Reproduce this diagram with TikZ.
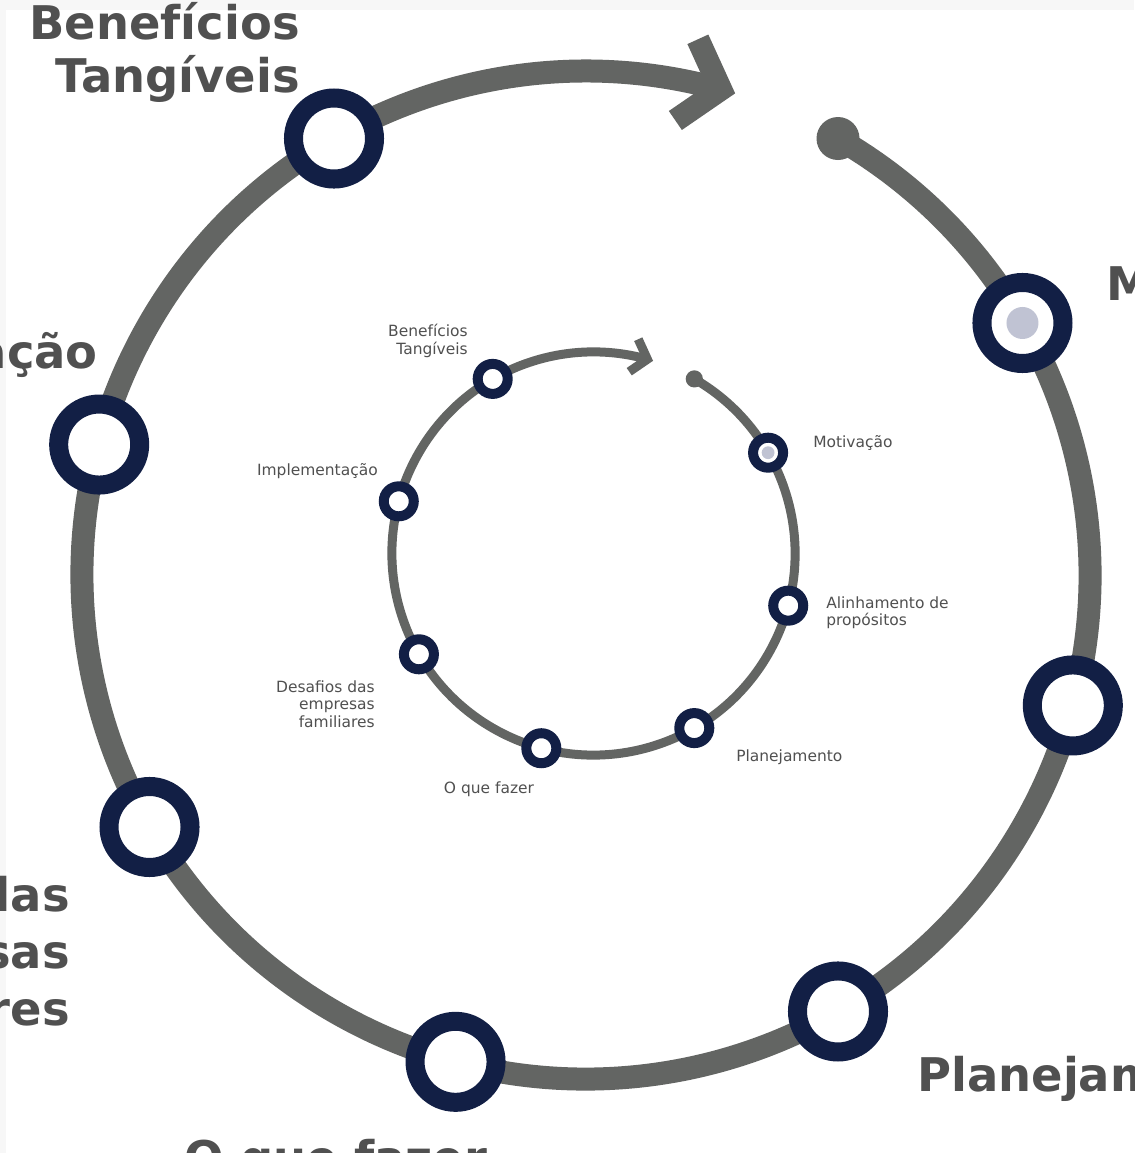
\documentclass[tikz,border=0pt]{standalone}
\usepackage{fontspec}
\setmainfont{DejaVu Sans}
\usepackage{tikz}
\usetikzlibrary{calc}

\definecolor{cinza}{RGB}{99,101,99}
\definecolor{marinho}{RGB}{18,31,69}
\definecolor{lilas}{RGB}{192,195,211}
\definecolor{texto}{RGB}{80,80,80}
\definecolor{fundo}{RGB}{247,247,247}

\tikzset{
	anel/.style={circle, draw=marinho, fill=white, line width=0.475cm, minimum size=2.025cm, inner sep=0pt},
	anelp/.style={circle, draw=marinho, fill=white, line width=0.25cm, minimum size=0.75cm, inner sep=0pt},
	rotulo/.style={text=texto, inner sep=0pt, font=\fontsize{33}{38}\selectfont\bfseries},
	rotulop/.style={text=texto, inner sep=0pt, font=\fontsize{11}{12.5}\selectfont},
}

\begin{document}
\begin{tikzpicture}[x=0.025cm, y=0.025cm]
	
	\useasboundingbox (0,0) rectangle (1134,1153);
	\clip (0,0) rectangle (1134,1153);
	\fill[fundo] (0,0) rectangle (1134,1153);
	\fill[white] (6,0) rectangle (1134,1143);
	
	% ciclo grande
	\begin{scope}[shift={(586,578)}]
		\coordinate (ini) at (60:504);
		\coordinate (ponta) at (74.5:504);
		
		\draw[cinza, line width=0.575cm] (ini) arc[start angle=60, end angle=-285.5, radius=504];
		\draw[cinza, line width=0.575cm] (ponta) ++(114.5:55) -- (ponta) -- ++(214.5:55);
		\fill[cinza] (ini) circle[radius=21.5];
		
		\node[anel] (mot) at (30:504) {};
		\node[anel] (ali) at (-15:504) {};
		\node[anel] (pla) at (-60:504) {};
		\node[anel] (oqf) at (-105:504) {};
		\node[anel] (des) at (-150:504) {};
		\node[anel] (imp) at (165:504) {};
		\node[anel] (ben) at (120:504) {};
		\fill[lilas] (mot) circle[radius=16];
	\end{scope}
	
	% ciclo pequeno
	\begin{scope}[shift={(593.5,599.5)}, scale=0.4]
		\coordinate (ini2) at (60:504);
		\coordinate (ponta2) at (74.5:504);
		
		\draw[cinza, line width=0.225cm] (ini2) arc[start angle=60, end angle=-285.5, radius=504];
		\draw[cinza, line width=0.225cm] (ponta2) ++(114.5:55) -- (ponta2) -- ++(214.5:55);
		\fill[cinza] (ini2) circle[radius=21.5];
		
		\node[anelp] (mot2) at (30:504) {};
		\node[anelp] (ali2) at (-15:504) {};
		\node[anelp] (pla2) at (-60:504) {};
		\node[anelp] (oqf2) at (-105:504) {};
		\node[anelp] (des2) at (-150:504) {};
		\node[anelp] (imp2) at (165:504) {};
		\node[anelp] (ben2) at (120:504) {};
		\fill[lilas] (mot2) circle[radius=16];
	\end{scope}
	
	\node[rotulo, anchor=north east, align=right] (tben) at (300,1151) {Benefícios\\Tangíveis};
	\node[rotulo, anchor=north east] (timp) at (98,821) {Implementação};
	\node[rotulo, anchor=north west] (tmot) at (1106,889) {Motivação};
	\node[rotulo, anchor=north west] (tpla) at (917,97) {Planejamento};
	\node[rotulo, anchor=north] (toqf) at (336,14) {O que fazer};
	\node[rotulo, anchor=north east, align=right, font=\fontsize{33}{40.5}\selectfont\bfseries] (tdes) at (70,277) {Desafios das\\empresas\\familiares};
	
	\node[rotulop, anchor=north east, align=right] (tben2) at (468,829) {Benefícios\\Tangíveis};
	\node[rotulop, anchor=north east] (timp2) at (378,690) {Implementação};
	\node[rotulop, anchor=north east, align=right] (tdes2) at (375,473) {Desafios das\\empresas\\familiares};
	\node[rotulop, anchor=north] (toqf2) at (489,372) {O que fazer};
	\node[rotulop, anchor=north west] (tmot2) at (813,718) {Motivação};
	\node[rotulop, anchor=north west, align=left] (tali2) at (826,557) {Alinhamento de\\propósitos};
	\node[rotulop, anchor=north west] (tpla2) at (736,404) {Planejamento};
	
\end{tikzpicture}
\end{document}
